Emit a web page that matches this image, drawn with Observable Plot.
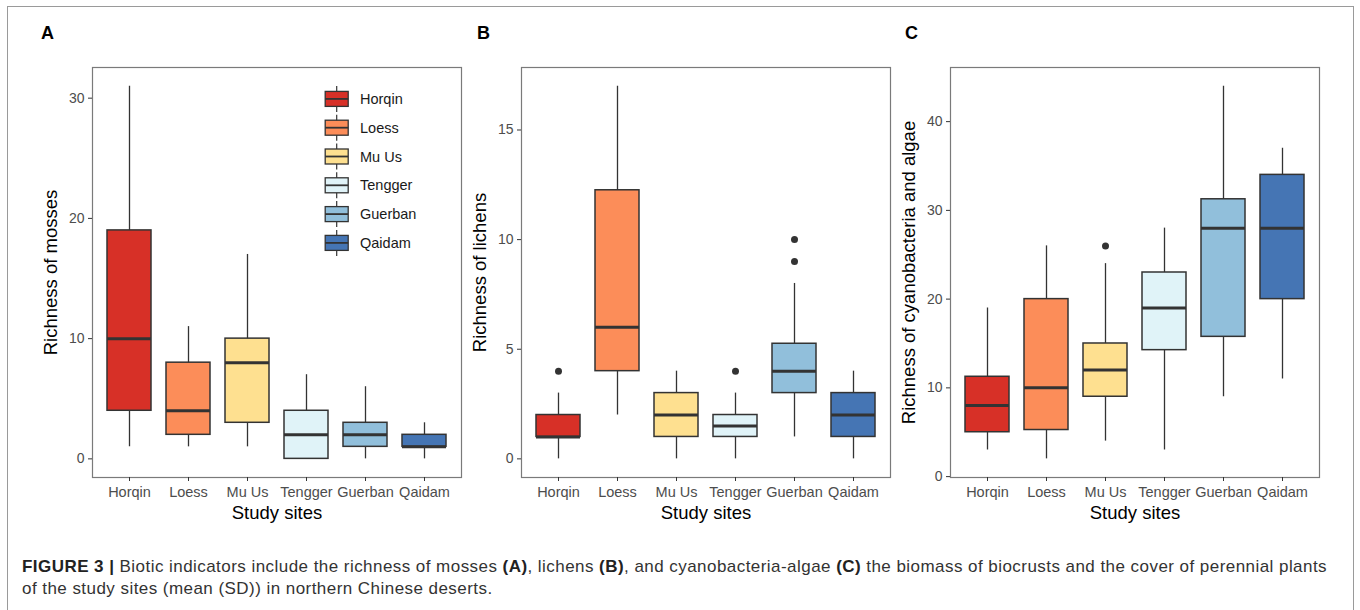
<!DOCTYPE html>
<html>
<head>
<meta charset="utf-8">
<script src="https://cdn.jsdelivr.net/npm/d3@7"></script>
<script src="https://cdn.jsdelivr.net/npm/@observablehq/plot@0.6"></script>
<style>
  body { margin: 0; background: #fff; }
  #page { position: relative; width: 1360px; height: 610px; overflow: hidden; background: #fff;
          font-family: "Liberation Sans", Arial, Helvetica, sans-serif; }
  #border { position: absolute; left: 7px; top: 6px; width: 1347px; height: 640px;
            border: 1.5px solid #9a9a9a; box-sizing: border-box; }
  .panel { position: absolute; top: 0; }
  .tag { position: absolute; top: 23px; font-weight: bold; font-size: 18px; color: #000; }
  g[aria-label="y-axis label"] text, g[aria-label="x-axis label"] text { fill: #000; font-size: 18.5px; }
  #caption { position: absolute; left: 22px; top: 556px; width: 1334px; font-size: 17px; line-height: 22px;
             letter-spacing: 0.45px; color: #333; white-space: nowrap; }
  #caption b { color: #222; }
</style>
</head>
<body>
<div id="page">
  <div id="border"></div>
  <div class="tag" style="left:41px">A</div>
  <div class="tag" style="left:477px">B</div>
  <div class="tag" style="left:905px">C</div>
  <div id="pA" class="panel" style="left:0px"></div>
  <div id="legend" class="panel" style="left:0px"></div>
  <div id="pB" class="panel" style="left:470px"></div>
  <div id="pC" class="panel" style="left:900px"></div>
  <div id="caption"><b>FIGURE 3 |</b> Biotic indicators include the richness of mosses <b>(A)</b>, lichens <b>(B)</b>, and cyanobacteria-algae <b>(C)</b> the biomass of biocrusts and the cover of perennial plants<br>of the study sites (mean (SD)) in northern Chinese deserts.</div>
</div>
<script>
const FONT = '"Liberation Sans", Arial, Helvetica, sans-serif';

const sites = ["Horqin", "Loess", "Mu Us", "Tengger", "Guerban", "Qaidam"];
const colors = ["#d73027", "#fc8d59", "#fee090", "#e0f3f8", "#91bfdb", "#4575b4"];

// Panel A: richness of mosses
const mossLow  = [1, 1, 1, 0, 0, 0];
const mossQ1   = [4, 2, 3, 0, 1, 1];
const mossMed  = [10, 4, 8, 2, 2, 1];
const mossQ3   = [19, 8, 10, 4, 3, 2];
const mossHigh = [31, 11, 17, 7, 6, 3];
const mossOutSite = [];
const mossOutVal  = [];
const mossTicks = [0, 10, 20, 30];

// Panel B: richness of lichens
const lichenLow  = [0, 2, 0, 0, 1, 0];
const lichenQ1   = [1, 4, 1, 1, 3, 1];
const lichenMed  = [1, 6, 2, 1.5, 4, 2];
const lichenQ3   = [2, 12.25, 3, 2, 5.25, 3];
const lichenHigh = [3, 17, 4, 3, 8, 4];
const lichenOutSite = ["Horqin", "Tengger", "Guerban", "Guerban"];
const lichenOutVal  = [4, 4, 9, 10];
const lichenTicks = [0, 5, 10, 15];

// Panel C: richness of cyanobacteria and algae
const cyanoLow  = [3, 2, 4, 3, 9, 11];
const cyanoQ1   = [5, 5.25, 9, 14.25, 15.75, 20];
const cyanoMed  = [8, 10, 12, 19, 28, 28];
const cyanoQ3   = [11.25, 20, 15, 23, 31.25, 34];
const cyanoHigh = [19, 26, 24, 28, 44, 37];
const cyanoOutSite = ["Mu Us"];
const cyanoOutVal  = [26];
const cyanoTicks = [0, 10, 20, 30, 40];

function rowsOf(lo, q1, med, q3, hi) {
  return sites.map((s, i) => ({site: s, lo: lo[i], q1: q1[i], med: med[i], q3: q3[i], hi: hi[i]}));
}
function outsOf(ss, vv) { return ss.map((s, i) => ({site: s, v: vv[i]})); }

function panel({rows, outs, ticks, ylabel, width, marginLeft, marginRight}) {
  const all = rows.flatMap(d => [d.lo, d.hi]).concat(outs.map(d => d.v));
  const [mn, mx] = d3.extent(all);
  const pad = (mx - mn) * 0.05;
  return Plot.plot({
    width, height: 520,
    marginLeft, marginRight, marginTop: 67, marginBottom: 43,
    style: {fontFamily: FONT, fontSize: "14px", background: "transparent", overflow: "visible"},
    x: {type: "band", domain: sites, paddingInner: 0.25, paddingOuter: 0.225},
    y: {domain: [mn - pad, mx + pad]},
    color: {domain: sites, range: colors},
    marks: [
      Plot.frame({stroke: "#7a7a7a", strokeWidth: 1.2}),
      Plot.axisY({ticks, tickSize: 4, tickPadding: 4, stroke: "#333", fill: "#4d4d4d", fontSize: 14,
                  label: ylabel, labelAnchor: "center", labelArrow: "none", labelOffset: 49}),
      Plot.axisX({tickSize: 4, tickPadding: 5, stroke: "#333", fill: "#4d4d4d", fontSize: 14.5,
                  label: "Study sites", labelAnchor: "center", labelArrow: "none", labelOffset: 41}),
      Plot.ruleX(rows, {x: "site", y1: "lo", y2: "hi", stroke: "#333", strokeWidth: 1.3}),
      Plot.barY(rows, {x: "site", y1: "q1", y2: "q3", fill: "site", stroke: "#333", strokeWidth: 1.5}),
      Plot.tickY(rows, {x: "site", y: "med", stroke: "#333", strokeWidth: 3}),
      Plot.dot(outs, {x: "site", y: "v", r: 3.5, fill: "#333", stroke: "none"})
    ]
  });
}

document.getElementById("pA").append(panel({
  rows: rowsOf(mossLow, mossQ1, mossMed, mossQ3, mossHigh), outs: outsOf(mossOutSite, mossOutVal),
  ticks: mossTicks, ylabel: "Richness of mosses", width: 470, marginLeft: 92, marginRight: 9
}));
document.getElementById("pB").append(panel({
  rows: rowsOf(lichenLow, lichenQ1, lichenMed, lichenQ3, lichenHigh), outs: outsOf(lichenOutSite, lichenOutVal),
  ticks: lichenTicks, ylabel: "Richness of lichens", width: 430, marginLeft: 51, marginRight: 10
}));
document.getElementById("pC").append(panel({
  rows: rowsOf(cyanoLow, cyanoQ1, cyanoMed, cyanoQ3, cyanoHigh), outs: outsOf(cyanoOutSite, cyanoOutVal),
  ticks: cyanoTicks, ylabel: "Richness of cyanobacteria and algae", width: 460, marginLeft: 50, marginRight: 41
}));

// Legend inside panel A
const lg = d3.select("#legend").append("svg").attr("width", 470).attr("height", 520)
  .style("font-family", FONT);
const ly = d3.scaleBand().domain(sites).range([84.5, 257.3]);
const kx = 336.7;
sites.forEach((s, i) => {
  const cy = ly(s) + ly.bandwidth() / 2;
  const g = lg.append("g");
  g.append("line").attr("x1", kx).attr("x2", kx).attr("y1", cy - 13).attr("y2", cy + 13)
    .attr("stroke", "#333").attr("stroke-width", 1.2);
  g.append("rect").attr("x", kx - 11.5).attr("y", cy - 7.5).attr("width", 23).attr("height", 15)
    .attr("fill", colors[i]).attr("stroke", "#333").attr("stroke-width", 1.3);
  g.append("line").attr("x1", kx - 11.5).attr("x2", kx + 11.5).attr("y1", cy).attr("y2", cy)
    .attr("stroke", "#333").attr("stroke-width", 1.8);
  g.append("text").attr("x", 360).attr("y", cy).attr("dy", "0.35em").attr("font-size", 14.5)
    .attr("fill", "#1a1a1a").text(s);
});
</script>
</body>
</html>
